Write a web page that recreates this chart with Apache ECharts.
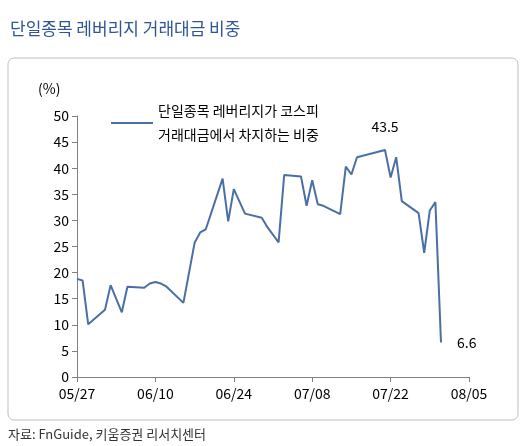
<!DOCTYPE html>
<html><head><meta charset="utf-8">
<script src="https://cdn.jsdelivr.net/npm/echarts@6/dist/echarts.min.js"></script>
<style>html,body{margin:0;padding:0;background:#fff}#c{width:532px;height:446px}</style>
</head><body><div id="c"></div>
<script>
const dayOffsets = [0,1,2,5,6,8,9,12,13,14,15,16,19,21,22,23,26,27,28,30,33,34,36,37,40,41,42,43,44,47,48,49,50,55,56,57,58,61,62,63,64,65];
const shareValues = [18.8,18.5,10.1,12.9,17.6,12.4,17.3,17.1,17.9,18.2,17.9,17.3,14.2,25.7,27.7,28.3,38.0,29.8,36.0,31.3,30.5,28.7,25.8,38.7,38.4,32.8,37.7,33.1,32.8,31.2,40.3,38.8,42.1,43.5,38.2,42.1,33.7,31.4,23.8,31.9,33.5,6.6];
const tickLabels = ['05/27','06/10','06/24','07/08','07/22','08/05'];
const seriesName = '단일종목 레버리지가 코스피\n거래대금에서 차지하는 비중';
const F = 'Noto Sans CJK KR';
const maxIdx = shareValues.indexOf(Math.max(...shareValues));
const lastIdx = shareValues.length - 1;
const data = dayOffsets.map((d,i)=>{
  const item = {value:[d, shareValues[i]]};
  if (i===maxIdx) item.label={show:true,position:'top',distance:16,formatter:p=>p.value[1].toFixed(1)};
  if (i===lastIdx) item.label={show:true,position:'right',distance:16,formatter:p=>p.value[1].toFixed(1)};
  return item;
});
const chart = echarts.init(document.getElementById('c'));
chart.setOption({
  animation:false,
  textStyle:{fontFamily:F},
  graphic:[
    {type:'text',left:10,top:20,style:{text:'단일종목 레버리지 거래대금 비중',font:'17px "Noto Sans CJK KR"',fill:'#2f5597'}},
    {type:'rect',shape:{x:8,y:58,width:510,height:362,r:6},style:{fill:'none',stroke:'#bfbfbf',lineWidth:1}},
    {type:'text',left:8,top:428,style:{text:'자료: FnGuide, 키움증권 리서치센터',font:'13px "Noto Sans CJK KR"',fill:'#333'}},
    {type:'text',left:38,top:82,style:{text:'(%)',font:'14px "Noto Sans CJK KR"',fill:'#000'}}
  ],
  legend:{show:true,left:106,top:94,itemWidth:42,itemHeight:2,itemGap:8,icon:'rect',
    textStyle:{fontFamily:F,fontSize:14,color:'#000',lineHeight:24},data:[seriesName]},
  grid:{left:77,right:63,top:116,bottom:69},
  xAxis:{type:'value',min:0,max:70,interval:14,
    axisLine:{lineStyle:{color:'#808080'}},axisTick:{lineStyle:{color:'#808080'}},splitLine:{show:false},
    axisLabel:{color:'#000',fontSize:14,fontFamily:F,margin:10,formatter:v=>tickLabels[v/14]||''}},
  yAxis:{type:'value',min:0,max:50,interval:5,
    axisLine:{show:true,lineStyle:{color:'#808080'}},axisTick:{show:true,lineStyle:{color:'#808080'}},splitLine:{show:false},
    axisLabel:{color:'#000',fontSize:14,fontFamily:F}},
  series:[{name:seriesName,type:'line',data:data,symbol:'circle',symbolSize:0.1,showSymbol:true,
    lineStyle:{color:'#4a6fa5',width:2},itemStyle:{color:'#4a6fa5'},
    label:{show:false,color:'#000',fontSize:14,fontFamily:F}}]
});
</script></body></html>
